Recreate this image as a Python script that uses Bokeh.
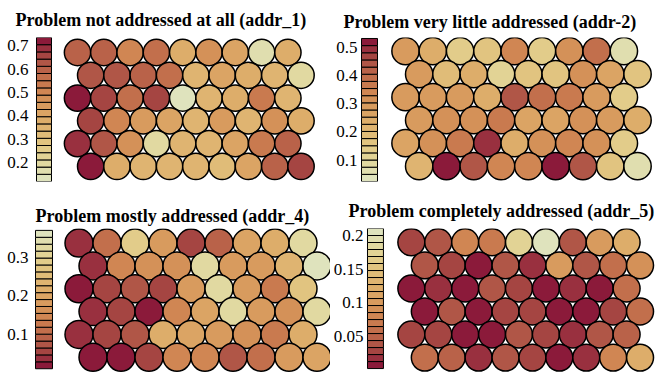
import math
from bokeh.plotting import figure
from bokeh.models import (Range1d, LinearAxis, FixedTicker, CustomJSTickFormatter,
                          LinearColorMapper, ColumnDataSource)
from bokeh.transform import transform
from bokeh.layouts import column, row
from bokeh.embed import file_html
from bokeh.resources import INLINE

# light -> dark
PALETTE = ["#dfe3bd", "#e0deaf", "#e1d9a1", "#e2d395", "#e2cc8a", "#e1c480",
           "#e0bc78", "#dfb471", "#ddad6a", "#dba464", "#d89b5e", "#d49158",
           "#d08653", "#c97a4f", "#c26f4c", "#b96249", "#b05647", "#a54542",
           "#99303f", "#8b1a3a"]

# node values, rows top -> bottom, 9 nodes per row (odd rows shifted right)
addr_1 = [
    [0.597, 0.597, 0.504, 0.566, 0.381, 0.474, 0.412, 0.166, 0.381],
    [0.627, 0.627, 0.597, 0.566, 0.351, 0.412, 0.381, 0.351, 0.197],
    [0.720, 0.658, 0.566, 0.658, 0.135, 0.351, 0.381, 0.535, 0.351],
    [0.658, 0.504, 0.443, 0.412, 0.351, 0.443, 0.351, 0.474, 0.381],
    [0.689, 0.627, 0.474, 0.197, 0.351, 0.351, 0.412, 0.535, 0.597],
    [0.720, 0.381, 0.351, 0.351, 0.351, 0.320, 0.412, 0.597, 0.658],
]
addr_2 = [
    [0.290, 0.239, 0.138, 0.163, 0.341, 0.138, 0.315, 0.391, 0.062],
    [0.290, 0.189, 0.239, 0.113, 0.163, 0.163, 0.315, 0.265, 0.163],
    [0.290, 0.290, 0.290, 0.239, 0.442, 0.391, 0.366, 0.290, 0.138],
    [0.290, 0.315, 0.315, 0.366, 0.265, 0.265, 0.315, 0.290, 0.239],
    [0.265, 0.315, 0.366, 0.493, 0.239, 0.315, 0.341, 0.315, 0.138],
    [0.214, 0.518, 0.442, 0.341, 0.341, 0.518, 0.442, 0.163, 0.062],
]
addr_4 = [
    [0.036, 0.109, 0.290, 0.181, 0.054, 0.091, 0.200, 0.218, 0.327],
    [0.036, 0.145, 0.163, 0.163, 0.327, 0.181, 0.181, 0.236, 0.363],
    [0.018, 0.054, 0.073, 0.054, 0.181, 0.327, 0.181, 0.127, 0.272],
    [0.036, 0.054, 0.018, 0.145, 0.200, 0.327, 0.181, 0.163, 0.327],
    [0.036, 0.054, 0.073, 0.218, 0.200, 0.181, 0.163, 0.127, 0.218],
    [0.018, 0.018, 0.054, 0.145, 0.145, 0.073, 0.109, 0.181, 0.200],
]
addr_5 = [
    [0.029, 0.039, 0.081, 0.070, 0.174, 0.205, 0.039, 0.101, 0.122],
    [0.039, 0.029, 0.008, 0.039, 0.019, 0.101, 0.039, 0.060, 0.091],
    [0.008, 0.019, 0.008, 0.039, 0.029, 0.008, 0.019, 0.008, 0.060],
    [0.008, 0.039, 0.008, 0.029, 0.029, 0.008, 0.008, 0.029, 0.060],
    [0.029, 0.029, 0.008, 0.008, 0.039, 0.029, 0.019, 0.039, 0.050],
    [0.060, 0.050, 0.019, 0.039, 0.029, 0.008, 0.019, 0.081, 0.122],
]

titles = ["Problem not addressed at all (addr_1)",
          "Problem very little addressed (addr-2)",
          "Problem mostly addressed (addr_4)",
          "Problem completely addressed (addr_5)"]
ranges = [(0.12, 0.735), (0.024, 0.531), (0.009, 0.372), (0.003, 0.21)]
ticks = [[0.2, 0.3, 0.4, 0.5, 0.6, 0.7], [0.1, 0.2, 0.3, 0.4, 0.5],
         [0.1, 0.2, 0.3], [0.05, 0.1, 0.15, 0.2]]
reversed_pal = [False, False, True, True]

SERIF = "Liberation Serif"


def panel(title, values, vr, tks, rev, W, H, frame, bar, c0, dx, toff, lstand, tstand):
    vmin, vmax = vr
    left, right, top, bottom = frame
    bx0, bx1, by0, by1 = bar
    cx, cy = c0
    h = math.sqrt(3) / 2
    xr = Range1d((left - cx) / dx, (right - cx) / dx)
    yr = Range1d(-(bottom - cy) / dx, (cy - top) / dx)
    k = (by1 - by0) / (vmax - vmin)
    cbr = Range1d(vmin - (bottom - by1) / k, vmax + (by0 - top) / k)
    pal = PALETTE[::-1] if rev else PALETTE
    mapper = LinearColorMapper(palette=pal, low=vmin, high=vmax)

    p = figure(width=W, height=H, x_range=xr, y_range=yr, output_backend="svg",
               toolbar_location=None, min_border_left=left, min_border_right=W - right,
               min_border_top=top, min_border_bottom=H - bottom,
               x_axis_location=None, y_axis_location=None, title=title)
    p.extra_y_ranges = {"cb": cbr}
    p.grid.grid_line_color = None
    p.outline_line_color = None
    p.background_fill_color = "white"
    p.border_fill_color = "white"
    p.title.align = "left"
    p.title.offset = toff
    p.title.standoff = tstand
    p.title.text_font = SERIF
    p.title.text_font_style = "bold"
    p.title.text_font_size = "18px"
    p.title.text_color = "black"

    xs, ys, vs = [], [], []
    for r, rowvals in enumerate(values):
        for c, v in enumerate(rowvals):
            xs.append(c + 0.5 * (r % 2))
            ys.append(-r * h)
            vs.append(v)
    src = ColumnDataSource(dict(x=xs, y=ys, v=vs))
    p.circle("x", "y", radius=0.5, source=src, fill_color=transform("v", mapper),
             line_color="black", line_width=1.5)

    n = len(pal)
    step = (vmax - vmin) / n
    cb = ColumnDataSource(dict(b=[vmin + i * step for i in range(n)],
                               t=[vmin + (i + 1) * step for i in range(n)],
                               m=[vmin + (i + 0.5) * step for i in range(n)]))
    p.quad(left=(bx0 - cx) / dx, right=(bx1 - cx) / dx, bottom="b", top="t", source=cb,
           y_range_name="cb", fill_color=transform("m", mapper), line_color="black",
           line_width=1)

    ax = LinearAxis(y_range_name="cb", ticker=FixedTicker(ticks=tks),
                    formatter=CustomJSTickFormatter(code="return String(Math.round(tick*1000)/1000)"),
                    axis_line_color=None, major_tick_line_color=None,
                    minor_tick_line_color=None)
    ax.major_tick_out = 0
    ax.major_tick_in = 0
    ax.minor_tick_out = 0
    ax.minor_tick_in = 0
    ax.major_label_text_font = SERIF
    ax.major_label_text_font_size = "17px"
    ax.major_label_text_color = "black"
    ax.major_label_standoff = lstand
    p.add_layout(ax, "left")
    return p


p1 = panel(titles[0], addr_1, ranges[0], ticks[0], reversed_pal[0], 330, 190,
           (32, 320, 37, 181), (36, 51, 37, 181), (77, 52), 26.3, -17, 4, 15)
p2 = panel(titles[1], addr_2, ranges[1], ticks[1], reversed_pal[1], 330, 190,
           (29, 330, 35, 183), (31, 47, 36, 183), (75, 49), 27.3, -16, 2, 12)
p3 = panel(titles[2], addr_4, ranges[2], ticks[2], reversed_pal[2], 330, 184,
           (32, 330, 29, 182), (35, 52, 31, 178), (78.5, 44.5), 28.0, 3, 4, 5)
p4 = panel(titles[3], addr_5, ranges[3], ticks[3], reversed_pal[3], 330, 184,
           (34, 330, 38, 184), (36, 52, 38, 180), (80, 52), 27.0, -17, 2, 16)

layout = column(row(p1, p2), row(p3, p4))
open("out.html", "w").write(file_html(layout, INLINE))
